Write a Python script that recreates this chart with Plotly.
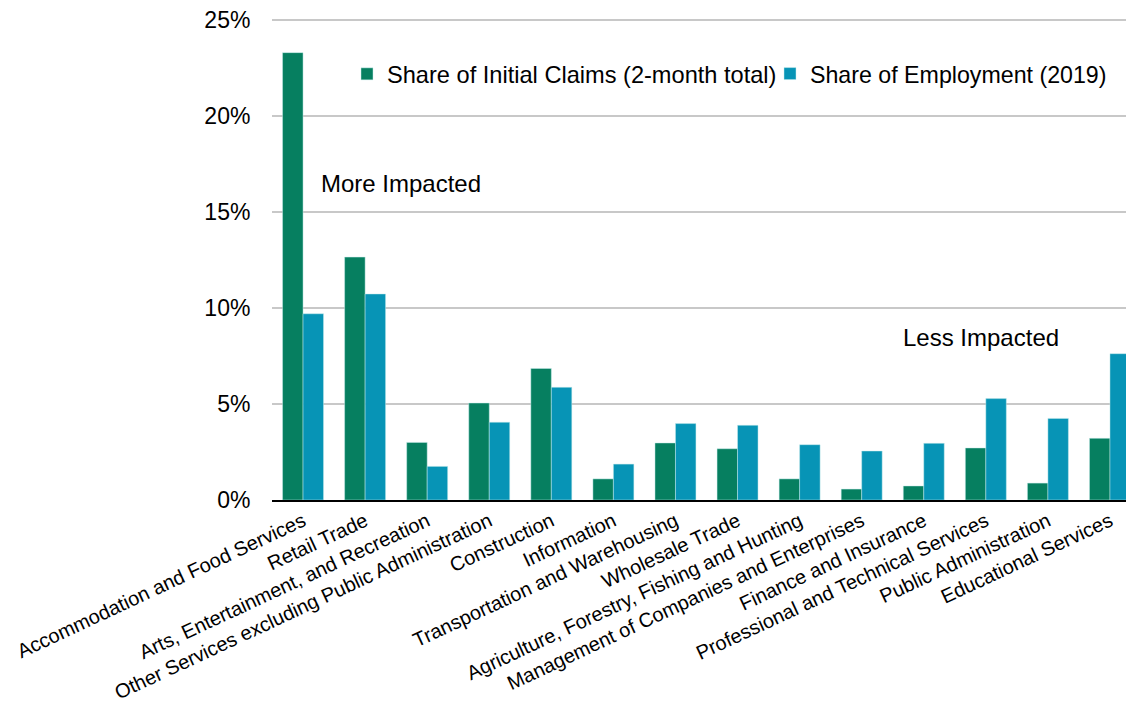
import plotly.graph_objects as go

categories = [
    "Accommodation and Food Services",
    "Retail Trade",
    "Arts, Entertainment, and Recreation",
    "Other Services excluding Public Administration",
    "Construction",
    "Information",
    "Transportation and Warehousing",
    "Wholesale Trade",
    "Agriculture, Forestry, Fishing and Hunting",
    "Management of Companies and Enterprises",
    "Finance and Insurance",
    "Professional and Technical Services",
    "Public Administration",
    "Educational Services",
]
claims_share = [23.3, 12.65, 3.0, 5.05, 6.85, 1.1, 2.97, 2.67, 1.1, 0.57, 0.73, 2.71, 0.88, 3.21]
employment_share = [9.7, 10.73, 1.75, 4.05, 5.87, 1.87, 3.98, 3.89, 2.88, 2.55, 2.95, 5.28, 4.25, 7.62]
series_names = ["Share of Initial Claims (2-month total)", "Share of Employment (2019)"]
y_ticks = [0, 5, 10, 15, 20, 25]
y_tick_text = ["0%", "5%", "10%", "15%", "20%", "25%"]

# page offset (browser default body margin)
OFF = 8
W, H = 1134 - OFF, 702 - OFF
PLOT_L, PLOT_T, PLOT_B = 272, 20, 500   # target positions in window pixels
EXTRA = 3                                # px of headroom above the 25% line
PH = (PLOT_B - PLOT_T) + EXTRA
Y_MAX = 25 * PH / (PLOT_B - PLOT_T)
L = PLOT_L - OFF
B = H - (PLOT_B - OFF)
T = H - B - PH
R = 0
PW = W - L - R

FONT = "Liberation Sans, Arial, sans-serif"
GREEN = "#067F60"
BLUE = "#0794B6"

fig = go.Figure()
fig.add_trace(go.Bar(
    x=categories, y=claims_share, name=series_names[0],
    marker=dict(color=GREEN, line=dict(color="rgba(200,235,235,0.8)", width=0.6)),
    legend="legend",
))
fig.add_trace(go.Bar(
    x=categories, y=employment_share, name=series_names[1],
    marker=dict(color=BLUE, line=dict(color="rgba(200,235,235,0.8)", width=0.6)),
    legend="legend2",
))


def px_x(x):
    return (x - OFF) / W


def px_y(y):
    return 1 - (y - OFF) / H


fig.update_layout(
    width=W, height=H,
    margin=dict(l=L, r=R, t=T, b=B, autoexpand=False),
    paper_bgcolor="white", plot_bgcolor="white",
    font=dict(family=FONT, color="black"),
    barmode="group", bargap=0.34, bargroupgap=0,
    showlegend=True,
    legend=dict(
        orientation="h", xref="container", yref="container",
        x=px_x(347), y=px_y(74), xanchor="left", yanchor="middle",
        font=dict(size=23.6, family=FONT), bgcolor="rgba(0,0,0,0)",
        itemwidth=30, tracegroupgap=0,
    ),
    legend2=dict(
        orientation="h", xref="container", yref="container",
        x=px_x(770), y=px_y(74), xanchor="left", yanchor="middle",
        font=dict(size=23.2, family=FONT), bgcolor="rgba(0,0,0,0)",
        itemwidth=30, tracegroupgap=0,
    ),
    xaxis=dict(
        range=[-0.5, 13.387], tickangle=-25, tickfont=dict(size=20, family=FONT),
        showline=True, linecolor="black", linewidth=2, ticks="",
        showgrid=False, zeroline=False,
    ),
    yaxis=dict(
        range=[0, Y_MAX], tickmode="array", tickvals=y_ticks, ticktext=y_tick_text,
        tickfont=dict(size=23, family=FONT), ticklabeloverflow="allow",
        showgrid=True, gridcolor="#C8C8C8", gridwidth=2,
        zeroline=False, showline=False, ticks="outside", ticklen=16,
        tickcolor="rgba(0,0,0,0)",
    ),
    annotations=[
        dict(text="More Impacted", xref="paper", yref="paper",
             x=(319 - PLOT_L) / PW, y=(PLOT_B - 183) / PH,
             xanchor="left", yanchor="middle", showarrow=False,
             font=dict(size=24, family=FONT, color="black")),
        dict(text="Less Impacted", xref="paper", yref="paper",
             x=(901 - PLOT_L) / PW, y=(PLOT_B - 337) / PH,
             xanchor="left", yanchor="middle", showarrow=False,
             font=dict(size=24, family=FONT, color="black")),
    ],
)

fig.write_html("out.html")
